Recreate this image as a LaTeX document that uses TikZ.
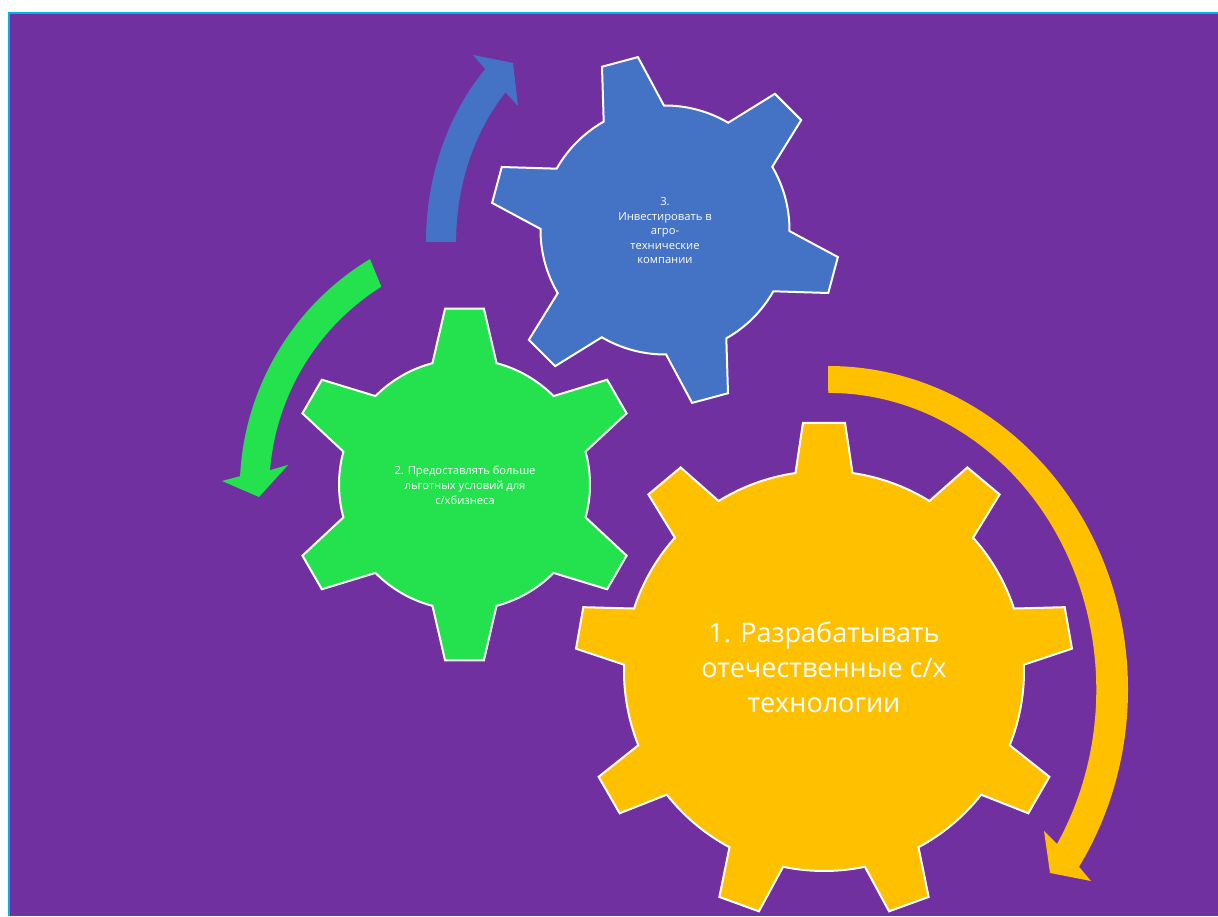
\documentclass[tikz,border=0pt]{standalone}
\usepackage{fontspec}
\setmainfont{Open Sans}
\usetikzlibrary{calc}
\definecolor{bgpurple}{HTML}{7030A0}
\definecolor{frameblue}{HTML}{00B0F0}
\definecolor{gyellow}{HTML}{FFC000}
\definecolor{ggreen}{HTML}{23E24E}
\definecolor{gblue}{HTML}{4472C4}
\tikzset{
  gearshape/.style={line width=2pt, draw=white, line join=miter},
  geartext/.style={text=white, align=center, inner sep=0pt},
}
% cx, cy, body radius, outer radius, teeth, first tooth angle, base half-angle, tip half-angle, colour
\newcommand{\drawgearshape}[9]{%
  \pgfmathsetmacro{\gstep}{360/#5}%
  \pgfmathtruncatemacro{\glast}{#5-1}%
  \begin{scope}[shift={(#1,#2)}]
    \filldraw[gearshape, fill=#9] ({#6-#7}:#3pt)
      \foreach \k in {0,...,\glast} {
        -- ({#6+\k*\gstep-#8}:#4pt) -- ({#6+\k*\gstep+#8}:#4pt)
        -- ({#6+\k*\gstep+#7}:#3pt)
        arc[start angle={#6+\k*\gstep+#7}, end angle={#6+(\k+1)*\gstep-#7}, radius=#3pt]
      } -- cycle;
  \end{scope}}
\begin{document}
\begin{tikzpicture}[x=1pt, y=1pt]
  \useasboundingbox (0,0) rectangle (1218,916);
  \fill[white] (0,0) rectangle (1218,916);
  \fill[bgpurple] (9,0) rectangle (1218,903);
  \draw[frameblue, line width=2pt] (9,0) -- (9,903) -- (1218,903);

  % yellow circular arrow
  \fill[gyellow] (828,550)
    arc[start angle=90, end angle=-33.2, x radius=300pt, y radius=323.6pt]
    -- (1091,35) -- (1050,43) -- (1044,85) -- (1057,72)
    arc[start angle=-31.4, end angle=90, x radius=268pt, y radius=296.6pt] -- cycle;

  % green circular arrow
  \coordinate (gac) at (509.2,426.2);
  \fill[ggreen] ($(gac)+(121.1:269.5pt)$)
    arc[start angle=121.1, end angle=177.1, radius=269.5pt]
    -- (222,435) -- (259,419) -- (288,451) -- ($(gac)+(175.3:240pt)$)
    arc[start angle=175.3, end angle=122.2, radius=240pt] -- cycle;

  % blue circular arrow
  \fill[gblue] (426,674)
    arc[start angle=180, end angle=135.1, x radius=203pt, y radius=245pt]
    -- (473,861) -- (513,853) -- (518,810) -- (505.5,823.6)
    arc[start angle=135.6, end angle=180, x radius=173pt, y radius=213.7pt] -- cycle;

  % gears
  \drawgearshape{824}{245}{200}{249}{9}{90}{8.2}{4.85}{gyellow}
  \drawgearshape{464.5}{431.5}{125.5}{177}{6}{90}{14.8}{6.3}{ggreen}
  \drawgearshape{665}{686}{124.5}{175}{6}{105}{14.5}{6.1}{gblue}

  % texts
  \node[geartext, font=\fontsize{27}{35}\selectfont] (t1) at (824,249)
    {1. Разрабатывать\\отечественные с/х\\технологии};
  \node[geartext, font=\fontsize{11.2}{14.8}\selectfont] (t2) at (465,431)
    {2. Предоставлять больше\\льготных условий для\\с/хбизнеса};
  \node[geartext, font=\fontsize{11.2}{14.5}\selectfont] (t3) at (665,685)
    {3.\\Инвестировать в\\агро-\\технические\\компании};
\end{tikzpicture}
\end{document}
